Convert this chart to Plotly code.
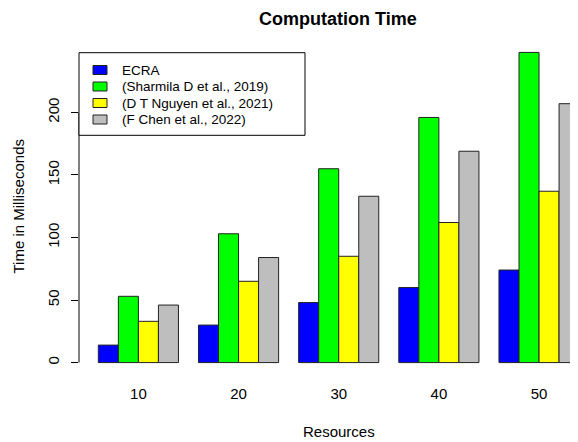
import plotly.graph_objects as go

resources = ["10", "20", "30", "40", "50"]
series_names = ["ECRA", "(Sharmila D et al., 2019)", "(D T Nguyen et al., 2021)", "(F Chen et al., 2022)"]
ecra = [14, 30, 48, 60, 74]
sharmila = [53, 103, 155, 196, 248]
nguyen = [33, 65, 85, 112, 137]
chen = [46, 84, 133, 169, 207]
colors = ["#0000FF", "#00FF00", "#FFFF00", "#BEBEBE"]
y_ticks = [0, 50, 100, 150, 200]

# page body has an 8px margin; figure sized to fill the remaining window
OFF = 8
W, H = 578 - OFF, 442 - OFF
L, R, T, B = 79 - OFF, 0, 40 - OFF, 67
PW, PH = W - L - R, H - T - B

def px(x):
    """window pixel x -> paper"""
    return (x - OFF - L) / PW

def py(y):
    """window pixel y -> paper"""
    return (H - B - (y - OFF)) / PH

FONT = "Liberation Sans, Arial, sans-serif"

fig = go.Figure()
for name, vals, col in zip(series_names, [ecra, sharmila, nguyen, chen], colors):
    fig.add_trace(go.Bar(x=resources, y=vals, name=name, marker_color=col,
                         marker_line_color="#222222", marker_line_width=1,
                         showlegend=False))

shapes = []
annotations = []
shapes.append(dict(type="line", xref="paper", yref="y", x0=0, x1=0,
                   y0=y_ticks[0], y1=y_ticks[-1], line=dict(color="black", width=1)))
shapes.append(dict(type="rect", xref="paper", yref="paper", x0=px(79), x1=px(305),
                   y0=py(135.3), y1=py(52.7), line=dict(color="black", width=1),
                   fillcolor="white", layer="above"))
row_y = [70, 86.5, 103, 119.5]
for name, col, yy in zip(series_names, colors, row_y):
    shapes.append(dict(type="rect", xref="paper", yref="paper", x0=px(93), x1=px(107),
                       y0=py(yy + 4.5), y1=py(yy - 4.5), line=dict(color="#222222", width=1),
                       fillcolor=col, layer="above"))
    annotations.append(dict(text=name, xref="paper", yref="paper", x=px(120), y=py(yy),
                            xanchor="left", yanchor="middle", showarrow=False,
                            font=dict(size=13.5, color="black", family=FONT)))

annotations.append(dict(text="Resources", xref="paper", yref="paper", x=px(339), y=py(431),
                        xanchor="center", yanchor="middle", showarrow=False,
                        font=dict(size=15, color="black", family=FONT)))
annotations.append(dict(text="Time in Milliseconds", xref="paper", yref="paper", x=px(17.5), y=py(207),
                        xanchor="center", yanchor="middle", showarrow=False, textangle=-90,
                        font=dict(size=15, color="black", family=FONT)))
annotations.append(dict(text="<b>Computation Time</b>", xref="paper", yref="paper", x=px(338), y=py(OFF),
                        xanchor="center", yanchor="top", showarrow=False, borderpad=0,
                        font=dict(size=18, color="black", family=FONT)))

fig.update_layout(
    width=W, height=H,
    margin=dict(l=L, r=R, t=T, b=B, autoexpand=False),
    plot_bgcolor="white", paper_bgcolor="white",
    barmode="group", bargap=0.2, bargroupgap=0,
    font=dict(family=FONT, size=15, color="black"),
    shapes=shapes, annotations=annotations,
    xaxis=dict(type="category", range=[-0.593, 4.389], showline=False, showgrid=False,
               zeroline=False, ticks="", ticklabelstandoff=8,
               tickfont=dict(size=15, color="black", family=FONT)),
    yaxis=dict(range=[-9.92, 257.92], tickvals=y_ticks, ticktext=[str(v) for v in y_ticks],
               showline=False, showgrid=False, zeroline=False,
               ticks="outside", ticklen=7, tickcolor="black", tickwidth=1,
               tickangle=-90, ticklabelstandoff=6,
               tickfont=dict(size=15, color="black", family=FONT)),
)

fig.write_html("out.html")
